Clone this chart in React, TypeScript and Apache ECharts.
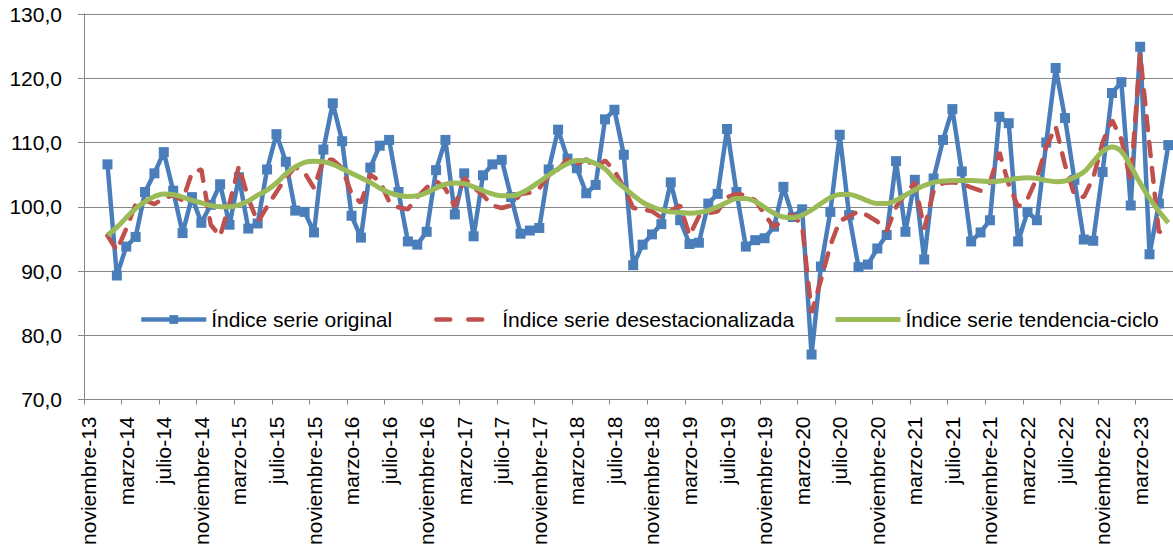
import React, { useEffect, useRef } from "react";
import * as echarts from "echarts";

// Month names used to build the category labels (noviembre-13 ... junio-23)
const MESES = ["enero", "febrero", "marzo", "abril", "mayo", "junio", "julio", "agosto", "septiembre", "octubre", "noviembre", "diciembre"];
const START_MONTH = 10; // noviembre
const START_YEAR = 13;
const N_CATEGORIES = 116;

const CATEGORIES: string[] = [];
for (let i = 0; i < N_CATEGORIES; i++) {
  const mi = (START_MONTH + i) % 12;
  const yy = START_YEAR + Math.floor((START_MONTH + i) / 12);
  CATEGORIES.push(`${MESES[mi]}-${yy}`);
}

// no data for noviembre-13 and diciembre-13
const LEADING = [null, null];

// enero-14 ... junio-23
const ORIGINAL = [
  106.6, 89.3, 93.8, 95.3, 102.3, 105.2, 108.5, 102.5, 95.9, 101.5,
  97.5, 100.3, 103.5, 97.2, 104.6, 96.6, 97.4, 105.8, 111.3, 107.0,
  99.4, 99.2, 96.0, 108.9, 116.1, 110.2, 98.6, 95.2, 106.1, 109.5,
  110.4, 102.3, 94.6, 94.1, 96.1, 105.7, 110.4, 98.8, 105.2, 95.4,
  104.9, 106.6, 107.3, 101.5, 95.8, 96.3, 96.7, 105.8, 112.0, 107.5,
  106.0, 102.1, 103.4, 113.6, 115.1, 108.1, 90.9, 94.1, 95.7, 97.3,
  103.8, 97.9, 94.2, 94.4, 100.5, 102.0, 112.1, 102.3, 93.8, 94.8,
  95.1, 96.9, 103.1, 98.4, 99.6, 77.0, 90.7, 99.2, 111.2, 98.7,
  90.6, 91.0, 93.5, 95.6, 107.1, 96.1, 104.2, 91.8, 104.4, 110.4,
  115.2, 105.5, 94.6, 96.0, 97.9, 114.0, 113.0, 94.6, 99.2, 97.9,
  110.0, 121.6, 113.8, 104.2, 94.9, 94.7, 105.4, 117.7, 119.4, 100.2,
  124.9, 92.6, 100.5, 109.6,
];

const DESESTACIONALIZADA = [
  95.5, 93.2, 96.6, 100.4, 101.0, 100.4, 101.3, 101.8, 101.0, 105.3,
  105.8, 97.2, 95.4, 100.5, 106.3, 101.3, 97.6, 100.0, 102.3, 104.5,
  106.2, 105.3, 102.9, 107.4, 107.3, 106.0, 102.0, 100.6, 105.0, 104.0,
  100.8, 99.9, 99.6, 101.5, 103.0, 104.0, 102.8, 100.0, 104.5, 103.0,
  101.8, 100.2, 99.8, 100.2, 102.0, 102.2, 102.9, 104.8, 105.8, 107.4,
  106.6, 107.4, 106.0, 107.2, 105.6, 103.0, 99.8, 99.6, 99.3, 98.3,
  99.4, 100.2, 95.5, 98.5, 99.0, 99.3, 101.5, 102.0, 101.8, 101.0,
  98.8, 96.8, 98.0, 98.8, 97.0, 83.5, 88.6, 94.0, 97.8, 98.5,
  99.3, 98.6, 97.7, 96.2, 100.0, 102.0, 103.8, 96.5, 102.5, 103.7,
  103.8, 103.6, 103.0, 102.5, 103.8, 108.5, 103.5, 100.0, 101.2, 104.5,
  109.3, 112.5, 106.5, 101.8, 101.5, 104.5, 110.0, 113.5, 110.5, 104.0,
  123.8, 109.5, 96.0, 97.0,
];

const TENDENCIA = [
  95.6, 96.8, 98.3, 99.7, 100.8, 101.6, 102.0, 101.9, 101.5, 101.0,
  100.6, 100.2, 100.0, 100.0, 100.3, 100.9, 101.8, 102.6, 103.7, 105.1,
  106.2, 106.9, 107.1, 107.0, 106.6, 105.9, 105.2, 104.5, 103.8, 102.9,
  102.2, 101.8, 101.6, 101.7, 102.2, 102.9, 103.5, 103.7, 103.6, 103.1,
  102.5, 102.0, 101.7, 101.7, 102.1, 102.9, 103.9, 104.9, 105.9, 106.7,
  107.2, 107.2, 106.7, 105.9, 104.3, 103.0, 101.8, 100.7, 100.0, 99.5,
  99.2, 99.1, 99.0, 99.1, 99.4, 100.0, 100.7, 101.3, 101.3, 100.8,
  99.9, 99.0, 98.4, 98.3, 98.7, 99.5, 100.5, 101.4, 101.9, 101.9,
  101.5, 100.9, 100.5, 100.5, 101.0, 101.8, 102.6, 103.3, 103.8, 104.0,
  104.1, 104.1, 104.1, 104.0, 103.9, 104.0, 104.2, 104.4, 104.5, 104.4,
  104.1, 103.9, 104.0, 104.6, 105.4, 107.0, 108.6, 109.3, 108.6, 106.3,
  103.7, 101.3, 99.3, 97.5,
];

const Y_MIN = 70;
const Y_MAX = 130;
const Y_STEP = 10;

const NAMES = ["Índice serie original", "Índice serie desestacionalizada", "Índice serie tendencia-ciclo"];
const COLORS = ["#4a7ebb", "#c0504d", "#9bbb59"];

const FONT = "Liberation Sans";

export default function App() {
  const ref = useRef<HTMLDivElement>(null);

  useEffect(() => {
    if (!ref.current) return;
    const chart = echarts.init(ref.current, undefined, { renderer: "svg" });
    const textStyle = { fontFamily: FONT, fontSize: 21, color: "#000" };
    const legendBase = {
      top: 309,
      padding: 0,
      itemHeight: 11,
      textStyle,
      selectedMode: false,
    };
    chart.setOption({
      animation: false,
      textStyle: { fontFamily: FONT },
      grid: { left: 84, right: -7, top: 14, bottom: 157.5, containLabel: false },
      legend: [
        { ...legendBase, data: [NAMES[0]], left: 139, itemWidth: 65, lineStyle: { width: 4.5 } },
        {
          ...legendBase,
          data: [NAMES[1]],
          left: 434,
          itemWidth: 61,
          itemStyle: { opacity: 0 },
          lineStyle: { width: 4.5, type: [14, 18], cap: "round" },
        },
        { ...legendBase, data: [NAMES[2]], left: 833, itemWidth: 65, itemStyle: { opacity: 0 }, lineStyle: { width: 5 } },
      ],
      xAxis: {
        type: "category",
        data: CATEGORIES,
        boundaryGap: true,
        axisLine: { lineStyle: { color: "#868686", width: 1 } },
        axisTick: { show: true, interval: 3, length: 5, lineStyle: { color: "#868686" } },
        axisLabel: {
          interval: 3,
          rotate: 90,
          margin: 17,
          fontFamily: FONT,
          fontSize: 21,
          color: "#000",
          padding: [7, 0, 0, 0],
        },
        splitLine: { show: false },
      },
      yAxis: {
        type: "value",
        min: Y_MIN,
        max: Y_MAX,
        interval: Y_STEP,
        axisLine: { show: true, lineStyle: { color: "#868686", width: 1 } },
        axisTick: { show: true, length: 6, lineStyle: { color: "#868686" } },
        axisLabel: {
          margin: 22,
          fontFamily: FONT,
          fontSize: 21,
          color: "#000",
          formatter: (v: number) => v.toFixed(1).replace(".", ","),
        },
        splitLine: { show: true, lineStyle: { color: "#868686", width: 1 } },
      },
      series: [
        {
          name: NAMES[0],
          type: "line",
          data: [...LEADING, ...ORIGINAL],
          symbol: "rect",
          symbolSize: 10,
          showSymbol: true,
          showAllSymbol: true,
          color: COLORS[0],
          itemStyle: { color: COLORS[0] },
          lineStyle: { color: COLORS[0], width: 4.5 },
          z: 2,
        },
        {
          name: NAMES[1],
          type: "line",
          data: [...LEADING, ...DESESTACIONALIZADA],
          symbol: "none",
          color: COLORS[1],
          lineStyle: { color: COLORS[1], width: 4.5, type: [14, 12], cap: "round" },
          z: 3,
        },
        {
          name: NAMES[2],
          type: "line",
          data: [...LEADING, ...TENDENCIA],
          symbol: "none",
          smooth: 0.4,
          color: COLORS[2],
          lineStyle: { color: COLORS[2], width: 5 },
          z: 4,
        },
      ],
    });
    return () => chart.dispose();
  }, []);

  return (
    <div
      ref={ref}
      style={{ position: "fixed", left: 0, top: 0, width: 1173, height: 557, background: "#fff", overflow: "hidden" }}
    />
  );
}
